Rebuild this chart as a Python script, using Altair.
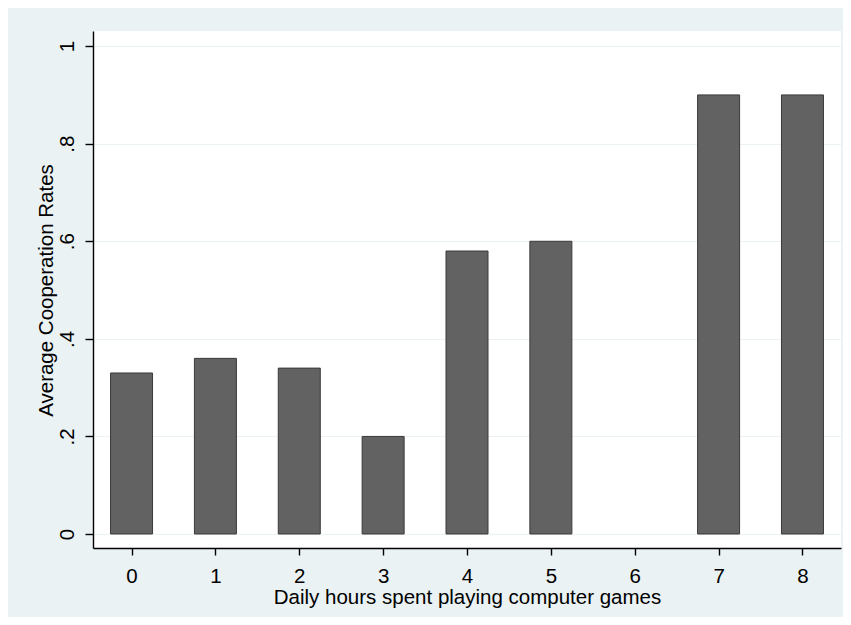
import altair as alt
import pandas as pd

# Data
hours = [0, 1, 2, 3, 4, 5, 7, 8]
rates = [0.33, 0.36, 0.34, 0.20, 0.58, 0.60, 0.90, 0.90]
x_ticks = [0, 1, 2, 3, 4, 5, 6, 7, 8]
y_ticks = [0, 0.2, 0.4, 0.6, 0.8, 1.0]

df = pd.DataFrame({"hours": hours, "rate": rates})

FONT = "Liberation Sans"
FS = 20.5
BG = "#EAF2F3"

chart = alt.Chart(df).mark_bar(
    size=42, color="#626262", stroke="#3a3a3a", strokeWidth=1
).encode(
    x=alt.X(
        "hours:Q",
        scale=alt.Scale(domain=[-0.4, 8.4], nice=False, zero=False),
        axis=alt.Axis(
            values=x_ticks,
            format="d",
            title="Daily hours spent playing computer games",
            grid=False,
            tickSize=7,
            labelPadding=27,
            labelBaseline="alphabetic",
            titleBaseline="alphabetic",
            titleY=55,
        ),
    ),
    y=alt.Y(
        "rate:Q",
        scale=alt.Scale(domain=[-0.0287, 1.031], nice=False, zero=False),
        axis=alt.Axis(
            values=y_ticks,
            labelExpr="datum.value == 0 ? '0' : (datum.value == 1 ? '1' : '.' + format(datum.value * 10, 'd'))",
            title="Average Cooperation Rates",
            grid=True,
            gridColor=BG,
            gridWidth=1.2,
            tickSize=8,
            labelAngle=270,
            labelAlign="center",
            labelBaseline="alphabetic",
            labelPadding=12,
            titleAngle=270,
            titleAlign="center",
            titleBaseline="alphabetic",
            titleX=-41,
            titleY=259,
        ),
    ),
).properties(
    width=748,
    height=517,
    autosize=alt.AutoSizeParams(type="none"),
    padding={"left": 85, "top": 23, "right": 2, "bottom": 69},
    background=BG,
).configure_view(
    fill="white", strokeWidth=0
).configure_axis(
    labelFont=FONT,
    titleFont=FONT,
    labelFontSize=FS,
    titleFontSize=FS,
    labelColor="#000000",
    titleColor="#000000",
    titleFontWeight="normal",
    domainColor="#000000",
    domainWidth=1.4,
    tickColor="#000000",
    tickWidth=1.4,
    labelOverlap=False,
)

chart.save("out.html", embed_options={"renderer": "svg", "actions": False})
